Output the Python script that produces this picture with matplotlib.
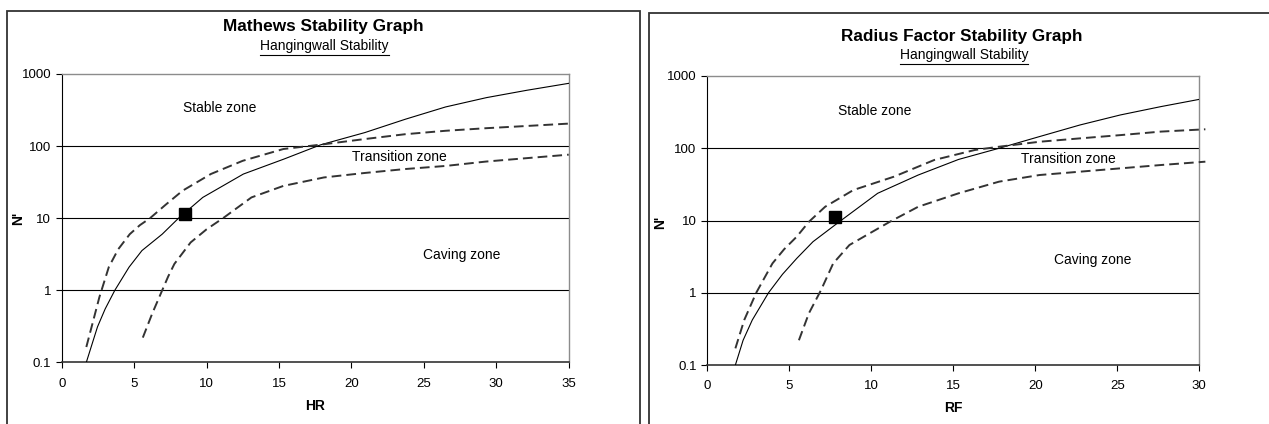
import matplotlib
matplotlib.use('Agg')
import matplotlib.pyplot as plt
from matplotlib.patches import Rectangle
from matplotlib.lines import Line2D
import numpy as np

plt.rcParams['font.family'] = ['Liberation Sans', 'DejaVu Sans']

# ---- data ----
# Mathews stability graph (HR)
hr_solid_x = [1.7, 2.1, 2.47, 3.0, 3.67, 4.65, 5.54, 6.94, 8.07, 9.74, 12.54, 15.34, 17.87,
              20.93, 23.73, 26.5, 29.32, 32.1, 35.0]
hr_solid_y = [0.1, 0.18, 0.31, 0.55, 1.0, 2.09, 3.55, 6.0, 10.0, 19.4, 40.9, 66, 104,
              154, 236, 349, 470, 594, 742]
hr_upper_x = [1.7, 2.1, 2.6, 3.25, 3.9, 4.7, 5.4, 6.1, 7.2, 8.34, 10.3, 12.5, 15.3, 18.1, 20.9,
              23.7, 26.5, 29.3, 32.1, 35.0]
hr_upper_y = [0.163, 0.33, 0.80, 2.09, 3.7, 6.0, 8.0, 10.0, 15.5, 24, 41, 62.5, 91, 106, 125,
              146, 163, 177, 190, 205]
hr_lower_x = [5.6, 6.24, 6.94, 7.35, 7.78, 8.9, 10.0, 11.14, 13.1, 15.3, 18.1, 20.9, 23.7,
              26.5, 29.3, 32.1, 35.0]
hr_lower_y = [0.22, 0.47, 1.0, 1.55, 2.32, 4.6, 7.0, 10.0, 19.4, 28, 36.7, 42.3, 48,
              53, 61, 68, 76]
hr_point = (8.5, 11.4)

# Radius factor stability graph (RF)
rf_solid_x = [1.73, 2.2, 2.76, 3.75, 4.6, 5.47, 6.46, 8.06, 10.4, 12.87, 15.33, 17.8,
              20.26, 22.73, 25.19, 27.66, 30.0]
rf_solid_y = [0.1, 0.22, 0.42, 1.0, 1.8, 2.99, 5.09, 9.6, 23.8, 42.6, 70, 100,
              145, 210, 289, 377, 475]
rf_upper_x = [1.73, 2.27, 3.0, 3.99, 4.7, 5.47, 6.21, 7.2, 8.92, 11.39, 13.85, 16.32,
              17.8, 20.26, 22.73, 25.19, 27.66, 30.37]
rf_upper_y = [0.17, 0.42, 1.0, 2.55, 4.0, 5.98, 9.6, 15.5, 26.4, 40.4, 68.8, 94.6,
              105, 123, 137, 152, 170, 183]
rf_lower_x = [5.6, 6.21, 6.95, 7.69, 8.68, 9.91, 11.14, 12.87, 15.33, 17.8,
              20.26, 22.73, 25.19, 27.66, 30.37]
rf_lower_y = [0.22, 0.52, 1.09, 2.55, 4.58, 6.64, 9.6, 15.5, 23.8, 34.5,
              42.6, 47.4, 52.7, 58.6, 65.2]
rf_point = (7.8, 11.3)

y_ticks = [0.1, 1, 10, 100, 1000]
y_tick_labels = ['0.1', '1', '10', '100', '1000']
grid_levels = [1, 10, 100]

W, H = 1269, 424
fig = plt.figure(figsize=(W/100, H/100), dpi=100)

def px(x0, y0, x1, y1):
    # pixel box (top-left origin) -> figure fraction
    return [x0/W, 1 - y1/H, (x1 - x0)/W, (y1 - y0)/H]

def ftext(x, y, s, **kw):
    return fig.text(x/W, 1 - y/H, s, ha='center', va='center', **kw)

def underline(t, ypix):
    fig.canvas.draw()
    bb = t.get_window_extent()
    fig.add_artist(Line2D([bb.x0/W, bb.x1/W], [1 - ypix/H, 1 - ypix/H],
                          color='k', lw=0.8, transform=fig.transFigure))

# panel frames
fig.add_artist(Rectangle((7/W, -0.05), (640-7)/W, 1 - 11/H + 0.05, fill=False,
                         ec='#333333', lw=1.3, transform=fig.transFigure))
fig.add_artist(Rectangle((649/W, -0.05), 0.5, 1 - 13/H + 0.05, fill=False,
                         ec='#333333', lw=1.3, transform=fig.transFigure))

panels = [
    dict(box=(61.7, 74, 568.7, 362.3), xmax=35,
         solid=(hr_solid_x, hr_solid_y), upper=(hr_upper_x, hr_upper_y),
         lower=(hr_lower_x, hr_lower_y), point=hr_point,
         labels=[(10.9, 342, 'Stable zone'), (23.3, 69.5, 'Transition zone'),
                 (27.6, 3.1, 'Caving zone')]),
    dict(box=(707, 76, 1199.3, 365), xmax=30,
         solid=(rf_solid_x, rf_solid_y), upper=(rf_upper_x, rf_upper_y),
         lower=(rf_lower_x, rf_lower_y), point=rf_point,
         labels=[(10.2, 328, 'Stable zone'), (22.0, 70, 'Transition zone'),
                 (23.5, 2.84, 'Caving zone')]),
]

fs = 9.5
for p in panels:
    ax = fig.add_axes(px(*p['box']))
    ax.set_yscale('log')
    ax.set_xlim(0, p['xmax'])
    ax.set_ylim(0.1, 1000)
    ax.set_yticks(y_ticks)
    ax.set_yticklabels(y_tick_labels)
    ax.yaxis.set_minor_locator(matplotlib.ticker.NullLocator())
    ax.set_xticks(np.arange(0, p['xmax'] + 1, 5))
    ax.tick_params(direction='out', length=4, width=0.8, labelsize=fs)
    ax.tick_params(axis='y', pad=3.5)
    ax.tick_params(axis='x', pad=7)
    for lev in grid_levels:
        ax.axhline(lev, color='k', lw=0.8, zorder=1)
    for s in ['top', 'right']:
        ax.spines[s].set_color('#8c8c8c')
        ax.spines[s].set_linewidth(1.0)
    ax.spines['left'].set_color('k')
    ax.spines['left'].set_linewidth(0.8)
    ax.spines['bottom'].set_color('#333333')
    ax.spines['bottom'].set_linewidth(1.2)

    ax.plot(*p['solid'], color='k', lw=0.8, zorder=3)
    for key in ['upper', 'lower']:
        ax.plot(*p[key], color='#333333', lw=1.4, dashes=(5, 2.6),
                zorder=3, clip_on=False)
    ax.plot(*p['point'], marker='s', ms=8, color='k', zorder=4)
    for x, y, s in p['labels']:
        ax.text(x, y, s, ha='center', va='center', fontsize=10)

# titles, axis labels
t1 = ftext(323.5, 27, 'Mathews Stability Graph', fontsize=12.4, fontweight='bold')
s1 = ftext(324.3, 46, 'Hangingwall Stability', fontsize=10)
t2 = ftext(962, 36, 'Radius Factor Stability Graph', fontsize=12.3, fontweight='bold')
s2 = ftext(964, 55, 'Hangingwall Stability', fontsize=10)
ftext(314.6, 406.5, 'HR', fontsize=10, fontweight='bold')
ftext(953, 408, 'RF', fontsize=10, fontweight='bold')
ftext(18, 218, "N'", fontsize=10, fontweight='bold', rotation=90)
ftext(660, 222, "N'", fontsize=10, fontweight='bold', rotation=90)

underline(s1, 55)
underline(s2, 64)

fig.savefig('out.png', dpi=100)
